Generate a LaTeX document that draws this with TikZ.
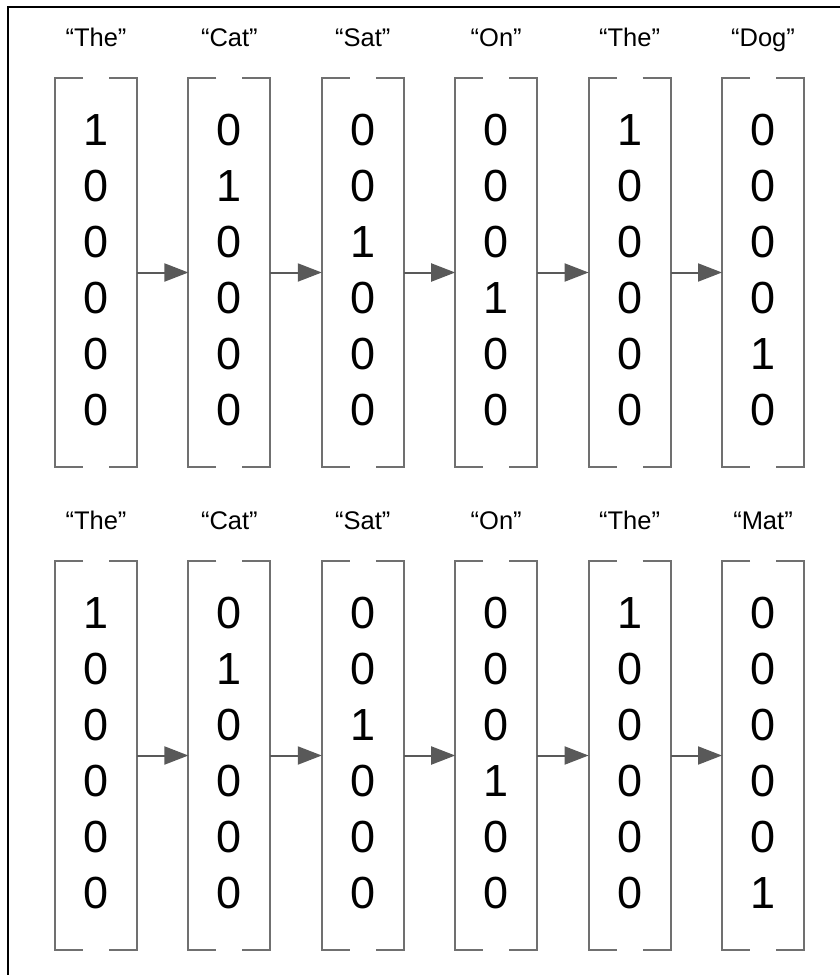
\documentclass[tikz,border=0pt]{standalone}
\usepackage{fontspec}
\setmainfont{Liberation Sans}
\usetikzlibrary{arrows.meta}
\definecolor{bracketgray}{HTML}{707070}
\definecolor{arrowgray}{HTML}{595959}
\begin{document}
\begin{tikzpicture}[x=1pt,y=-1pt,
  vec/.style={minimum width=82pt, minimum height=389pt, inner sep=0pt, outer sep=0pt},
  brk/.style={draw=bracketgray, line width=2pt},
  digit/.style={font=\fontsize{45}{54}\selectfont, inner sep=0pt},
  lab/.style={font=\fontsize{25.5}{30}\selectfont, inner sep=0pt, anchor=base},
  arr/.style={draw=arrowgray, line width=2pt, -{Triangle[length=24pt,width=18pt]}}]
\useasboundingbox (0,0) rectangle (839,975);
\draw[line width=2pt] (8,976) -- (8,7) -- (840,7);
% two rows: prefix / vertical offset / last word / index of last one
\foreach \p/\dy/\last/\lo in {t/0/Dog/4, b/483/Mat/5}{
  \foreach \c/\w/\one in {0/The/0,1/Cat/1,2/Sat/2,3/On/3,4/The/0,5/\last/\lo}{
    \pgfmathsetmacro\cx{96+133.4*\c}
    \node[vec] (\p\c) at (\cx, 272.5+\dy) {};
    \node[lab] (\p\c-lab) at (\cx, 46+\dy) {“\w”};
    \draw[brk] ([xshift=28pt]\p\c.north west) -- (\p\c.north west) -- (\p\c.south west) -- ([xshift=28pt]\p\c.south west);
    \draw[brk] ([xshift=-28pt]\p\c.north east) -- (\p\c.north east) -- (\p\c.south east) -- ([xshift=-28pt]\p\c.south east);
    \foreach \r in {0,...,5}{
      \pgfmathtruncatemacro\d{(\r==\one)}
      \node[digit] (\p\c-\r) at (\cx, 130+56*\r+\dy) {\d};
    }
  }
  \foreach \c in {0,...,4}{
    \pgfmathtruncatemacro\n{\c+1}
    \draw[arr] (\p\c.east) -- (\p\n.west);
  }
}
\end{tikzpicture}
\end{document}
